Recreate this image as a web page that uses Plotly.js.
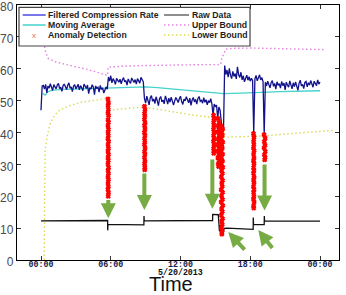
<!DOCTYPE html>
<html>
<head>
<meta charset="utf-8">
<script src="https://cdn.plot.ly/plotly-3.0.1.min.js"></script>
<style>html,body{margin:0;padding:0;background:#fff;}#chart{width:346px;height:295px;}</style>
</head>
<body>
<div id="chart"></div>
<script>
// ---------- data (hours after 00:00 on 5/20/2013, compression rate) ----------
const tickHours = [0, 6, 12, 18, 24];
const tickLabels = ['00:00', '06:00', '12:00', '18:00', '00:00'];
const yTicks = [0, 10, 20, 30, 40, 50, 60, 70, 80];
const dateLabel = '5/20/2013';
const xTitle = 'Time';

// filtered compression rate, sampled every 0.1 h starting at 0 h
const filteredStart = 0;
const filteredStep = 0.1;
const filteredRate = [
  47.0, 54.6, 54.8, 53.6, 55.1, 52.4, 54.6, 53.9, 55.3, 54.1,
  53.2, 55.0, 54.4, 53.7, 54.9, 55.4, 53.8, 54.2, 52.9, 54.7,
  55.2, 54.0, 53.5, 54.8, 55.6, 53.9, 54.3, 52.8, 54.6, 55.0,
  53.7, 54.4, 55.1, 53.4, 54.7, 54.0, 53.1, 55.2, 54.5, 53.8,
  54.9, 52.2, 54.1, 53.6, 55.0, 54.3, 51.9, 54.6, 53.9, 54.2,
  52.7, 54.8, 53.5, 54.0, 52.4, 53.8, 54.3, 53.6, 57.4, 56.1,
  57.8, 55.6, 56.9, 56.2, 55.1, 57.0, 56.4, 55.8, 56.7, 55.3,
  56.5, 57.2, 55.9, 56.3, 54.9, 56.8, 56.0, 55.4, 57.1, 56.2,
  55.7, 56.6, 55.2, 56.9, 56.1, 55.5, 57.3, 56.4, 55.9, 50.6,
  49.2, 51.4, 50.3, 48.7, 50.9, 51.6, 49.8, 50.5, 49.1, 51.2,
  50.0, 48.4, 50.7, 51.3, 49.6, 50.2, 49.0, 51.5, 50.4, 48.9,
  50.8, 49.5, 51.1, 50.1, 48.6, 49.9, 51.0, 50.3, 49.4, 50.6,
  51.4, 49.7, 48.8, 50.5, 49.9, 51.2, 50.0, 49.3, 50.8, 48.5,
  50.2, 51.0, 49.6, 50.4, 48.9, 50.7, 51.3, 49.8, 50.1, 49.2,
  50.9, 49.5, 50.3, 48.7, 50.0, 49.4, 50.6, 49.0, 45.5, 48.9,
  48.2, 48.6, 44.5, 48.0, 47.1, 44.2, 40.3, 40.8, 61.0, 58.2,
  59.6, 57.4, 60.1, 58.0, 56.9, 59.2, 57.6, 58.5, 56.8, 60.6,
  58.1, 57.3, 58.9, 56.5, 57.8, 55.9, 57.2, 58.0, 56.4, 57.5,
  56.1, 57.0, 56.3, 39.6, 56.8, 57.9, 56.2, 57.6, 58.1, 56.5,
  57.2, 56.0, 39.4, 55.8, 54.6, 56.1, 55.2, 54.0, 55.7, 56.3,
  54.5, 55.4, 53.6, 55.9, 54.8, 55.3, 53.9, 56.0, 54.7, 55.5,
  53.4, 55.8, 54.9, 54.2, 56.2, 55.0, 53.7, 55.6, 54.4, 55.9,
  54.8, 53.2, 55.5, 56.4, 54.6, 55.1, 53.8, 55.7, 56.0, 54.3,
  55.6, 54.9, 56.3, 55.0, 54.2, 56.1, 55.4, 54.7, 56.5, 55.2,
  55.8
];

const rawTime = [0, 5.73, 5.74, 5.76, 8.85, 8.86, 8.88, 14.76, 14.77, 15.25, 15.3, 15.35, 15.4, 15.45, 15.5, 15.55, 15.6, 15.65, 15.75, 16.0, 18.25, 18.26, 18.28, 19.2, 19.21, 19.23, 24.0];
const rawRate = [12.3, 12.4, 9.3, 11.2, 11.0, 13.8, 12.3, 12.4, 14.3, 14.2, 12.0, 9.0, 11.0, 7.5, 10.2, 8.0, 9.3, 7.8, 9.9, 10.0, 9.6, 13.3, 11.2, 11.1, 13.8, 12.3, 12.2];

const maTime = [0.15, 0.35, 0.6, 1, 2, 3, 4, 5, 6, 7, 8, 9, 10, 11, 12, 13, 14, 15, 15.7, 16.5, 17.5, 19, 20.5, 22, 24];
const maRate = [52.3, 51.7, 52.8, 53.3, 53.5, 53.6, 53.8, 53.9, 54.1, 54.2, 54.3, 54.3, 54.1, 53.8, 53.5, 53.2, 52.8, 52.4, 52.2, 52.3, 52.5, 52.6, 52.8, 52.9, 53.1];

const upperTime = [0.05, 0.2, 0.35, 0.6, 1.2, 2, 3, 4, 5, 5.72, 5.78, 7, 8.8, 10, 12, 14, 15.45, 15.55, 15.9, 16.5, 18, 20, 22, 24.4];
const upperRate = [82, 70, 65.8, 63.3, 62.2, 61.4, 60.6, 59.8, 58.8, 57.9, 60.5, 60.8, 61.0, 61.1, 61.2, 61.3, 61.3, 63.3, 66.2, 66.4, 66.5, 66.3, 66.2, 66.0];

const lowerTime = [0.27, 0.3, 0.35, 0.6, 0.8, 1.2, 1.6, 2.5, 3.5, 5, 5.72, 5.78, 7, 8.5, 9.5, 11, 12, 13, 14.5, 15.5, 15.7, 15.75, 17, 19, 21, 23, 25.2];
const lowerRate = [0, 30, 34.5, 40, 43, 45.5, 47, 48.5, 49.5, 50.3, 50.8, 47, 47.4, 47.9, 47.6, 46.6, 46, 45.5, 44.8, 44, 43.8, 38.5, 38.6, 38.9, 39.5, 40.1, 40.7];

const anomalyTime = [
  5.76, 5.80, 5.77, 5.79, 5.76, 5.81, 5.77, 5.80, 5.76, 5.80,
  5.77, 5.79, 5.76, 5.81, 5.77, 5.80, 5.76, 5.80, 5.77, 5.79,
  5.76, 5.81, 5.77, 5.80, 5.76, 5.80, 5.77, 5.79, 5.76, 5.80,
  5.78,
  8.90, 8.94, 8.91, 8.93, 8.90, 8.95, 8.91, 8.94, 8.90, 8.94,
  8.91, 8.93, 8.90, 8.95, 8.91, 8.94, 8.90, 8.94, 8.91, 8.93,
  8.92,
  14.84, 14.88, 14.85, 14.87, 14.84, 14.89, 14.85, 14.88, 14.84, 14.88,
  14.85, 14.87, 14.86,
  15.22, 15.31, 15.24, 15.30, 15.22, 15.32, 15.25, 15.29, 15.22, 15.31,
  15.23, 15.30, 15.22, 15.32, 15.24, 15.28,
  15.50, 15.62, 15.54, 15.60, 15.51, 15.63, 15.55, 15.59, 15.50, 15.62,
  15.52, 15.61, 15.50, 15.63, 15.54, 15.60, 15.51, 15.62, 15.55, 15.59,
  15.50, 15.62, 15.53, 15.61, 15.50, 15.63, 15.54, 15.60, 15.51, 15.62,
  15.55, 15.59, 15.52, 15.58, 15.56,
  18.28, 18.32, 18.29, 18.31, 18.28, 18.33, 18.29, 18.32, 18.28, 18.32,
  18.29, 18.31, 18.28, 18.33, 18.29, 18.32, 18.28, 18.32, 18.29, 18.31,
  18.28, 18.33, 18.29, 18.30,
  19.19, 19.28, 19.21, 19.27, 19.19, 19.29, 19.22, 19.27, 19.24
];
const anomalyRate = [
  50.5, 49.3, 48.4, 47.2, 46.1, 45.3, 44.0, 43.2, 42.1, 41.0,
  40.2, 39.1, 38.0, 37.2, 36.1, 35.0, 34.2, 33.1, 32.0, 31.2,
  30.1, 29.0, 28.2, 27.1, 26.0, 25.2, 24.1, 23.0, 22.2, 21.1,
  20.0,
  48.2, 47.1, 46.0, 45.2, 44.1, 43.0, 42.2, 41.1, 40.0, 39.2,
  38.1, 37.0, 36.2, 35.1, 34.0, 33.2, 32.1, 31.0, 30.2, 29.1,
  28.3,
  45.4, 44.3, 43.2, 42.1, 41.0, 40.2, 39.1, 38.0, 37.2, 36.1,
  35.0, 34.2, 33.5,
  44.4, 43.2, 42.1, 41.0, 40.2, 39.1, 38.0, 37.2, 36.1, 35.0,
  34.2, 33.1, 32.0, 31.2, 30.1, 29.3,
  42.0, 41.1, 40.0, 39.2, 38.1, 37.0, 36.2, 35.1, 34.0, 33.2,
  32.1, 31.0, 30.2, 29.1, 28.0, 27.2, 26.1, 25.0, 24.2, 23.1,
  22.0, 21.2, 20.1, 19.0, 18.2, 17.1, 16.0, 15.2, 14.1, 13.0,
  12.2, 11.1, 10.0, 9.2, 8.1,
  39.6, 38.5, 37.3, 36.2, 35.1, 34.3, 33.2, 32.0, 31.1, 30.2,
  29.0, 28.1, 27.2, 26.0, 25.1, 24.2, 23.0, 22.1, 21.2, 20.0,
  19.1, 18.2, 17.0, 16.3,
  39.3, 38.2, 37.1, 36.0, 35.2, 34.1, 33.0, 32.2, 31.4
];

// green arrows: [tip hour, tip rate] and [tail hour, tail rate]
const arrowTip = [[5.79, 13.1], [8.89, 15.7], [14.74, 16.1], [19.23, 15.5], [16.11, 8.8], [18.69, 9.4]];
const arrowTail = [[5.79, 19.3], [8.89, 27.6], [14.74, 32.0], [19.23, 30.4], [17.63, 2.8], [20.0, 3.3]];

// ---------- styles ----------
const C = {
  filtered: '#12128a', raw: '#111111', ma: '#45d3cc', upper: '#e283e2', lower: '#dcdc50', anomaly: '#ff0000', arrow: '#77ab43'
};
const dotDash = '1.5px,2.5px';

const traces = [
  {name: 'Lower Bound', x: lowerTime, y: lowerRate, mode: 'lines', line: {color: C.lower, width: 1.4, dash: dotDash}},
  {name: 'Upper Bound', x: upperTime, y: upperRate, mode: 'lines', line: {color: C.upper, width: 1.4, dash: dotDash}},
  {name: 'Raw Data', x: rawTime, y: rawRate, mode: 'lines', line: {color: C.raw, width: 1.3}},
  {name: 'Moving Average', x: maTime, y: maRate, mode: 'lines', line: {color: C.ma, width: 1.3}},
  {name: 'Filtered Compression Rate', x0: filteredStart, dx: filteredStep, y: filteredRate, mode: 'lines', line: {color: C.filtered, width: 1.3}},
  {name: 'Anomaly Detection', x: anomalyTime, y: anomalyRate, mode: 'markers', marker: {symbol: 'x', size: 3.2, color: C.anomaly, line: {width: 1.2, color: C.anomaly}}}
];
traces.forEach(t => { t.type = 'scatter'; t.showlegend = false; t.hoverinfo = 'skip'; });

// plot-area geometry (pixels) for the hand-made legend and labels
const L = 17, R = 339, T = 5, B = 260;
const px = x => (x - L) / (R - L);
const py = y => (B - y) / (B - T);

const shapes = [];
const annotations = [];

// legend box
shapes.push({type: 'rect', xref: 'paper', yref: 'paper', x0: px(19), x1: px(250), y0: py(7.3), y1: py(46), line: {color: '#444', width: 1.2}, fillcolor: '#fff', layer: 'above'});
const legendItems = [
  {name: 'Filtered Compression Rate', col: 0, row: 0, style: 'line', color: '#4b4be6', dash: 'solid', w: 1.5},
  {name: 'Moving Average', col: 0, row: 1, style: 'line', color: C.ma, dash: 'solid', w: 1.5},
  {name: 'Anomaly Detection', col: 0, row: 2, style: 'marker', color: C.anomaly},
  {name: 'Raw Data', col: 1, row: 0, style: 'line', color: '#444', dash: 'solid', w: 1.2},
  {name: 'Upper Bound', col: 1, row: 1, style: 'line', color: C.upper, dash: dotDash, w: 1.4},
  {name: 'Lower Bound', col: 1, row: 2, style: 'line', color: C.lower, dash: dotDash, w: 1.4}
];
const colSample = [[22.7, 45.7], [164, 189]];
const colText = [47, 190.5];
const rowY = [15, 25, 35];
legendItems.forEach(it => {
  const [a, b] = colSample[it.col];
  const y = rowY[it.row];
  if (it.style === 'line') {
    shapes.push({type: 'line', xref: 'paper', yref: 'paper', x0: px(a), x1: px(b), y0: py(y), y1: py(y), line: {color: it.color, width: it.w, dash: it.dash}, layer: 'above'});
  } else {
    annotations.push({xref: 'paper', yref: 'paper', x: px((a + b) / 2), y: py(y), text: 'x', showarrow: false, xanchor: 'center', yanchor: 'middle', font: {family: 'Liberation Sans', size: 8, color: '#f06060'}});
  }
  annotations.push({xref: 'paper', yref: 'paper', x: px(colText[it.col]), y: py(y), text: it.name, showarrow: false, xanchor: 'left', yanchor: 'middle', borderpad: 0, font: {family: 'Liberation Sans', size: 8.7, color: '#1e1e1e', weight: 'bold'}});
});

// green arrows
arrowTip.forEach((tip, i) => {
  annotations.push({x: tip[0], y: tip[1], ax: arrowTail[i][0], ay: arrowTail[i][1], xref: 'x', yref: 'y', axref: 'x', ayref: 'y', text: '', showarrow: true, arrowhead: 2, arrowsize: 0.75, arrowwidth: 4, arrowcolor: C.arrow});
});

// date label under 12:00 and the axis title (slightly left of centre, as in the original)
annotations.push({xref: 'x', yref: 'paper', x: 12, y: py(272.3), text: dateLabel, showarrow: false, xanchor: 'center', yanchor: 'middle', borderpad: 0, font: {family: 'Liberation Mono', size: 8.3, color: '#111', weight: 'bold'}});
annotations.push({xref: 'paper', yref: 'paper', x: px(170.5), y: py(283.8), text: xTitle, showarrow: false, xanchor: 'center', yanchor: 'middle', borderpad: 0, font: {family: 'Liberation Sans', size: 20, color: '#111'}});

const layout = {
  width: 346, height: 295,
  margin: {l: L, r: 346 - R, t: T, b: 295 - B},
  paper_bgcolor: '#fff', plot_bgcolor: '#fff',
  showlegend: false,
  xaxis: {
    range: [(17 - 41) / 11.625, (339 - 41) / 11.625],
    tickmode: 'array', tickvals: tickHours, ticktext: tickLabels,
    ticks: 'inside', ticklen: 4, tickcolor: '#333', tickwidth: 1,
    ticklabelstandoff: -4,
    showline: true, linecolor: '#000', linewidth: 1.2, mirror: 'ticks',
    showgrid: false, zeroline: false,
    tickfont: {family: 'Liberation Mono', size: 8.3, color: '#14204a', weight: 'bold'}
  },
  yaxis: {
    range: [0, 80], tickmode: 'array', tickvals: yTicks,
    ticks: 'inside', ticklen: 4, tickcolor: '#333', tickwidth: 1,
    ticklabeloverflow: 'allow', ticklabelshift: 2,
    showline: true, linecolor: '#000', linewidth: 1.2, mirror: 'ticks',
    showgrid: false, zeroline: false,
    tickfont: {family: 'Liberation Sans', size: 12, color: '#4a4a4a'}
  },
  shapes: shapes,
  annotations: annotations
};

Plotly.newPlot('chart', traces, layout, {staticPlot: true, displayModeBar: false});
</script>
</body>
</html>
